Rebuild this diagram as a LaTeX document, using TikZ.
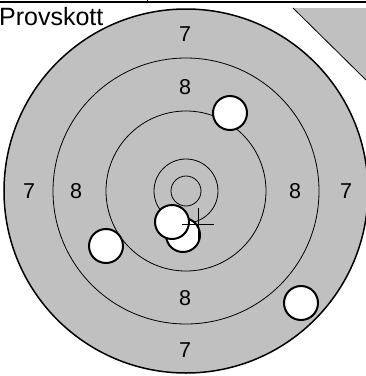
\documentclass[tikz,border=0pt]{standalone}
\usepackage{fontspec}
\setmainfont{Liberation Sans}
\definecolor{tgray}{HTML}{C0C0C0}
\begin{document}
\begin{tikzpicture}[x=1pt,y=-1pt,
  ring/.style={draw=black,line width=0.8pt},
  hole/.style={circle,draw=black,fill=white,line width=2pt,minimum size=34pt,inner sep=0pt},
  lbl/.style={font=\fontsize{21.5}{21.5}\selectfont,inner sep=0pt},
  crossline/.style={draw=black,line width=1pt}]
\useasboundingbox (0,0) rectangle (366,376);
\clip (0,0) rectangle (366,376);
% top rule
\draw[line width=1.5pt] (0,2) -- (366,2);
\draw[line width=1pt] (147,0) -- (147,2);
% gray corner
\fill[tgray] (293,8) -- (366,8) -- (366,80) -- cycle;
\draw[line width=0.8pt] (293,8) -- (366,80);
% target
\coordinate (c) at (186,191);
\fill[tgray] (c) circle[radius=182];
\draw[line width=1.5pt] (c) circle[radius=182];
\draw[ring] (c) circle[radius=133];
\draw[ring] (c) circle[radius=80];
\draw[ring] (c) circle[radius=32];
\draw[ring] (c) circle[radius=15];
% labels
\node[lbl] (t7) at (185,34) {7};
\node[lbl] (b7) at (185,350) {7};
\node[lbl] (l7) at (29,191) {7};
\node[lbl] (r7) at (346,191) {7};
\node[lbl] (t8) at (185,87) {8};
\node[lbl] (b8) at (185,298) {8};
\node[lbl] (l8) at (76,191) {8};
\node[lbl] (r8) at (295,191) {8};
% title
\node[anchor=base west,inner sep=0pt,font=\fontsize{25}{25}\selectfont] (title) at (-1,25) {Provskott};
% holes
\node[hole] (h1) at (230,113) {};
\node[hole] (h2) at (106,246) {};
\node[hole] (h3) at (301,303) {};
\node[hole] (h4) at (183,235) {};
\node[hole] (h5) at (172,222) {};
% aim cross
\coordinate (x0) at (198,224);
\draw[crossline] ([xshift=-16pt]x0) -- ([xshift=16pt]x0);
\draw[crossline] ([yshift=-17pt]x0) -- ([yshift=16pt]x0);
\end{tikzpicture}
\end{document}
